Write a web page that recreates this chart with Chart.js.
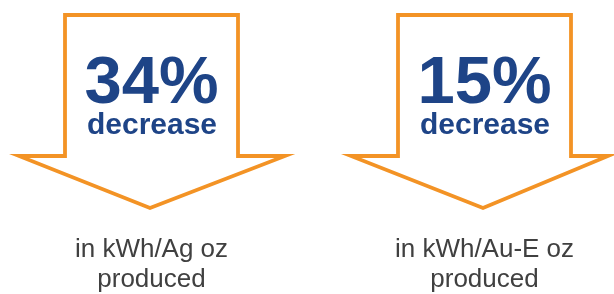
<!DOCTYPE html>
<html>
<head>
<meta charset="utf-8">
<script src="https://cdn.jsdelivr.net/npm/chart.js@4.4.1/dist/chart.umd.min.js"></script>
<style>
  html, body { margin: 0; padding: 0; background: #ffffff; }
  #wrap { width: 614px; height: 294px; position: relative; }
</style>
</head>
<body>
<div id="wrap"><canvas id="c" width="614" height="294"></canvas></div>
<script>
// ---- data ----
const categories = ['Ag', 'Au-E'];
const decreasePct = [34, 15];
const changeWord = 'decrease';
const unitLine1 = ['in kWh/Ag oz', 'in kWh/Au-E oz'];
const unitLine2 = ['produced', 'produced'];

// ---- style ----
const ORANGE = '#F39325';
const BLUE = '#1E4487';
const GREY = '#404040';
const WING_LEFT = [131, 132];
const WING_RIGHT = [135, 125];

const arrowPlugin = {
  id: 'arrowPlugin',
  afterDraw(chart) {
    const ctx = chart.ctx;
    const meta = chart.getDatasetMeta(0);
    meta.data.forEach((el, i) => {
      const cx = el.x;
      const sx = cx + 1.5;
      const top = 15, shaftBottom = 156, tipY = 208;
      const shaftHalf = 86.5;
      ctx.save();
      ctx.strokeStyle = ORANGE;
      ctx.lineWidth = 3.8;
      ctx.lineJoin = 'miter';
      ctx.miterLimit = 20;
      ctx.beginPath();
      ctx.moveTo(sx - shaftHalf, shaftBottom);
      ctx.lineTo(sx - shaftHalf, top);
      ctx.lineTo(sx + shaftHalf, top);
      ctx.lineTo(sx + shaftHalf, shaftBottom);
      ctx.lineTo(cx + WING_RIGHT[i], shaftBottom);
      ctx.lineTo(cx, tipY);
      ctx.lineTo(cx - WING_LEFT[i], shaftBottom);
      ctx.closePath();
      ctx.stroke();

      ctx.textAlign = 'center';
      ctx.textBaseline = 'alphabetic';
      ctx.fillStyle = BLUE;
      ctx.font = 'bold 67px "Liberation Sans", Arial, sans-serif';
      ctx.fillText(decreasePct[i] + '%', cx + 1.5, 103);
      ctx.font = 'bold 30px "Liberation Sans", Arial, sans-serif';
      ctx.fillText(changeWord, cx + 2, 134);

      ctx.fillStyle = GREY;
      ctx.font = '26px "Liberation Sans", Arial, sans-serif';
      ctx.fillText(unitLine1[i], cx + 1.5, 257);
      ctx.fillText(unitLine2[i], cx + 1.5, 287);
      ctx.restore();
    });
  }
};

new Chart(document.getElementById('c'), {
  type: 'bar',
  data: {
    labels: categories,
    datasets: [{
      data: decreasePct,
      backgroundColor: 'rgba(0,0,0,0)',
      borderWidth: 0
    }]
  },
  options: {
    responsive: false,
    animation: false,
    devicePixelRatio: 1,
    layout: { padding: { left: 150, right: 131, top: 0, bottom: 0 } },
    plugins: { legend: { display: false }, tooltip: { enabled: false } },
    scales: {
      x: { display: false, offset: false },
      y: { display: false, min: 0, max: 100 }
    }
  },
  plugins: [arrowPlugin]
});
</script>
</body>
</html>
